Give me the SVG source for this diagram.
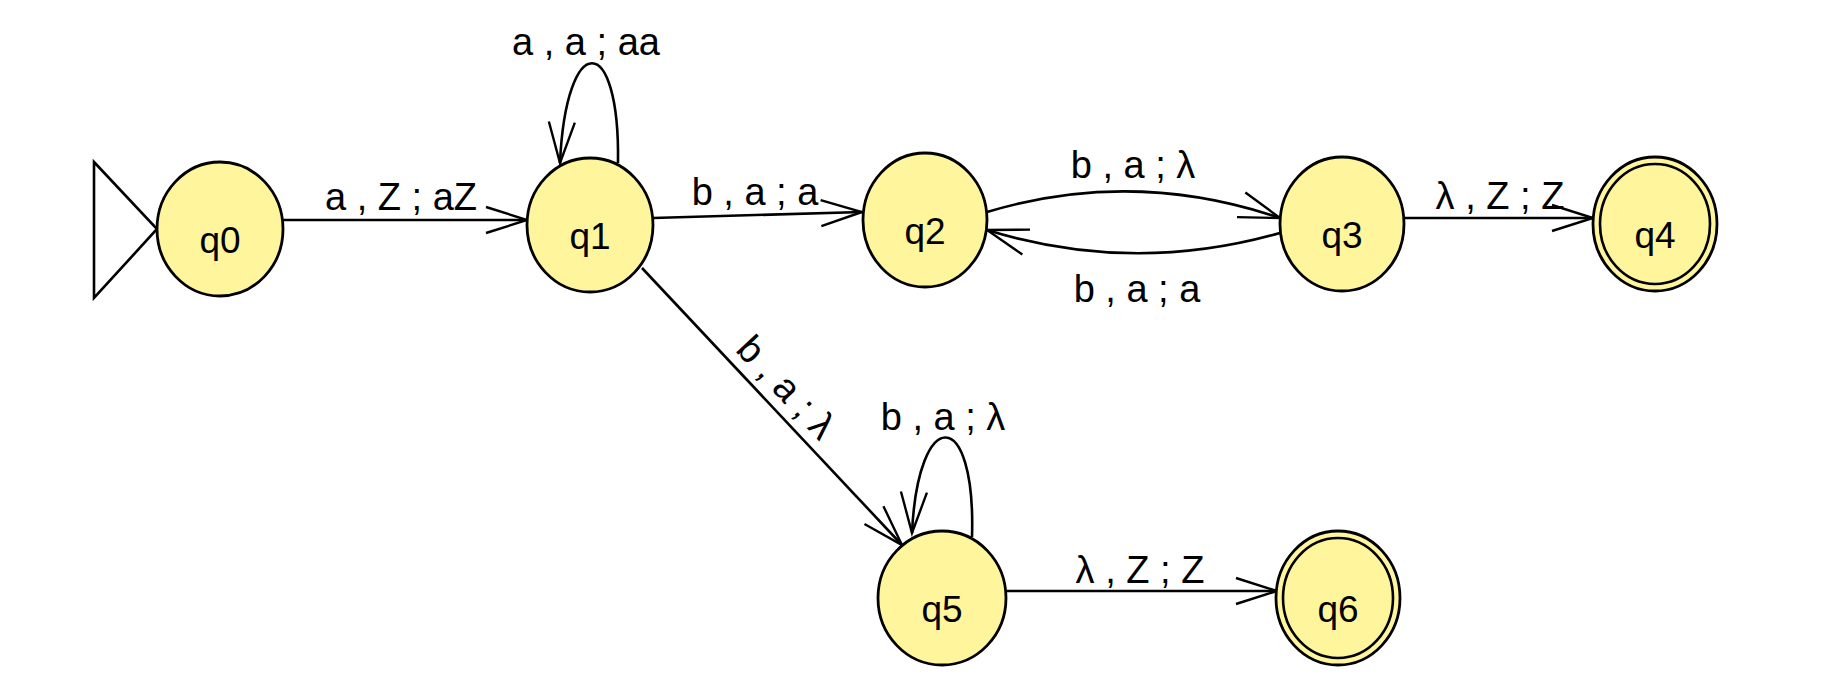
<svg xmlns="http://www.w3.org/2000/svg" width="1834" height="694" viewBox="0 0 1834 694">
<style>
.st{fill:#fef59c;stroke:#000;stroke-width:2.8}
.in{fill:none;stroke:#000;stroke-width:2.6}
.nl{font-family:"Liberation Sans",Arial,sans-serif;font-size:37px;text-anchor:middle;fill:#000}
.el{font-family:"Liberation Sans",Arial,sans-serif;font-size:38px;text-anchor:middle;fill:#000}
.ed{fill:none;stroke:#000;stroke-width:2.6;marker-end:url(#arr)}
</style>
<defs>
<marker id="arr" markerUnits="userSpaceOnUse" markerWidth="50" markerHeight="40" viewBox="-45 -20 50 40" refX="0" refY="0" orient="auto" overflow="visible">
<path d="M-41,-13 L0,0 L-41,13" fill="none" stroke="#000" stroke-width="2.4"/>
</marker>
</defs>
<rect width="1834" height="694" fill="#fff"/>
<g id="connectors">
<polygon points="94,162 157,229 94,298" fill="#fff" stroke="#000" stroke-width="2.6"/>
<path class="ed" d="M283,220 L527,220"/>
<path class="ed" d="M618,163 C620,30 566,30 560,163"/>
<path class="ed" d="M653,218 L862,212"/>
<path class="ed" d="M987,212 Q1133,168 1280,218"/>
<path class="ed" d="M1280,233 Q1133,275 987,230"/>
<path class="ed" d="M1403,218 L1593,218"/>
<path class="ed" d="M642,268 L902,545"/>
<path class="ed" d="M972,537 C976,405 918,405 912,533"/>
<path class="ed" d="M1007,591 L1277,591"/>
<text class="el" x="401" y="210">a , Z ; aZ</text>
<text class="el" x="586" y="55">a , a ; aa</text>
<text class="el" x="755" y="205">b , a ; a</text>
<text class="el" x="1133" y="178">b , a ; λ</text>
<text class="el" x="1137" y="302">b , a ; a</text>
<text class="el" x="1500" y="209">λ , Z ; Z</text>
<text class="el" x="777" y="396" transform="rotate(47 777 396)">b , a ; λ</text>
<text class="el" x="943" y="430">b , a ; λ</text>
<text class="el" x="1140" y="583">λ , Z ; Z</text>
</g>
<g id="q0"><ellipse class="st" cx="220" cy="229" rx="63" ry="67"/><text class="nl" x="220" y="253">q0</text></g>
<g id="q1"><ellipse class="st" cx="590" cy="225" rx="63" ry="67"/><text class="nl" x="590" y="249">q1</text></g>
<g id="q2"><ellipse class="st" cx="925" cy="220" rx="62" ry="67"/><text class="nl" x="925" y="244">q2</text></g>
<g id="q3"><ellipse class="st" cx="1342" cy="224" rx="62" ry="67"/><text class="nl" x="1342" y="248">q3</text></g>
<g id="q4"><ellipse class="st" cx="1655" cy="224" rx="62" ry="67"/><ellipse class="in" cx="1655" cy="224" rx="55" ry="60"/><text class="nl" x="1655" y="248">q4</text></g>
<g id="q5"><ellipse class="st" cx="942" cy="598" rx="64" ry="67"/><text class="nl" x="942" y="622">q5</text></g>
<g id="q6"><ellipse class="st" cx="1338" cy="598" rx="62" ry="67"/><ellipse class="in" cx="1338" cy="598" rx="55" ry="60"/><text class="nl" x="1338" y="622">q6</text></g>
</svg>
